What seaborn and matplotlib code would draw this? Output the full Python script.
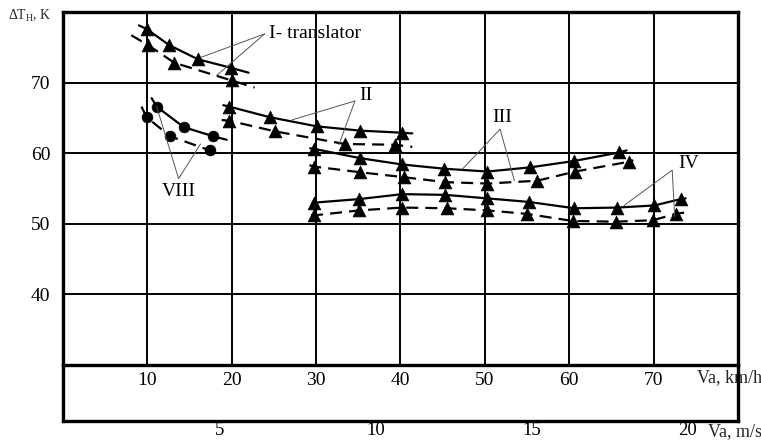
import matplotlib
matplotlib.use("Agg")
import matplotlib.pyplot as plt
import pandas as pd
import seaborn as sns

# ---------------- data ----------------
kmh_ticks = [10, 20, 30, 40, 50, 60, 70]
ms_ticks = [5, 10, 15, 20]
dT_ticks = [40, 50, 60, 70]

# Curve I (translator)
I_solid_v = [9.9, 12.6, 16.0, 19.9]
I_solid_T = [77.6, 75.3, 73.3, 72.1]
I_solid_ends = [(9.0, 78.1), (22.0, 71.4)]
I_dash_v = [10.1, 13.2, 20.0]
I_dash_T = [75.3, 72.8, 70.3]
I_dash_ends = [(8.1, 76.7), (22.7, 69.3)]

# Curve VIII (circles)
VIII_solid_v = [11.1, 14.3, 17.8]
VIII_solid_T = [66.6, 63.7, 62.4]
VIII_solid_ends = [(10.5, 67.8), (19.4, 61.9)]
VIII_dash_v = [9.9, 12.7, 17.4]
VIII_dash_T = [65.1, 62.4, 60.4]
VIII_dash_ends = [(9.3, 66.6), (18.0, 60.1)]

# Curve II
II_solid_v = [19.7, 24.5, 30.1, 35.2, 40.2]
II_solid_T = [66.6, 65.1, 63.8, 63.2, 62.9]
II_solid_ends = [(19.0, 66.8), (41.4, 62.8)]
II_dash_v = [19.7, 25.1, 33.4, 39.3]
II_dash_T = [64.6, 63.1, 61.3, 61.2]
II_dash_ends = [(18.8, 64.7), (41.4, 60.9)]

# Curve III
III_solid_v = [29.8, 35.2, 40.2, 45.2, 50.3, 55.4, 60.6, 65.9]
III_solid_T = [60.6, 59.3, 58.4, 57.8, 57.4, 58.0, 58.9, 60.1]
III_solid_ends = [(29.3, 60.7), (66.8, 60.4)]
III_dash_v = [29.8, 35.2, 40.4, 45.3, 50.3, 56.2, 60.7, 67.1]
III_dash_T = [58.1, 57.3, 56.6, 55.9, 55.7, 56.1, 57.4, 58.8]
III_dash_ends = [(29.2, 58.3), (67.6, 59.0)]

# Curve IV
IV_solid_v = [29.8, 35.1, 40.2, 45.3, 50.3, 55.2, 60.6, 65.7, 70.1, 73.2]
IV_solid_T = [53.0, 53.5, 54.2, 54.1, 53.6, 53.1, 52.2, 52.3, 52.6, 53.5]
IV_solid_ends = [(29.6, 53.0), (73.8, 53.6)]
IV_dash_v = [29.8, 35.1, 40.2, 45.5, 50.3, 55.0, 60.4, 65.5, 69.9, 72.6]
IV_dash_T = [51.2, 51.9, 52.3, 52.2, 51.9, 51.4, 50.4, 50.3, 50.5, 51.4]
IV_dash_ends = [(29.4, 51.2), (73.7, 51.6)]

# annotation labels: text, text position, apex, targets
ann_labels = ["I- translator", "II", "III", "IV", "VIII"]
ann_text_pos = [(24.4, 76.9), (35.9, 68.2), (52.0, 65.1), (74.1, 58.6), (13.7, 54.6)]
ann_ha = ["left", "center", "center", "center", "center"]
ann_apex = [(23.9, 76.9), (34.6, 67.4), (51.8, 63.4), (72.2, 57.6), (13.7, 56.4)]
ann_targets = [[(16.4, 73.6), (18.2, 71.0)],
               [(27.1, 64.7), (32.7, 61.2)],
               [(47.3, 57.7), (53.5, 56.1)],
               [(66.5, 52.6), (72.5, 51.0)],
               [(11.1, 66.6), (16.3, 61.3)]]

# ---------------- assemble tables ----------------
series = [
    ("I-s", "solid", "tri", I_solid_v, I_solid_T, I_solid_ends),
    ("I-d", "dashed", "tri", I_dash_v, I_dash_T, I_dash_ends),
    ("VIII-s", "solid", "circ", VIII_solid_v, VIII_solid_T, VIII_solid_ends),
    ("VIII-d", "dashed", "circ", VIII_dash_v, VIII_dash_T, VIII_dash_ends),
    ("II-s", "solid", "tri", II_solid_v, II_solid_T, II_solid_ends),
    ("II-d", "dashed", "tri", II_dash_v, II_dash_T, II_dash_ends),
    ("III-s", "solid", "tri", III_solid_v, III_solid_T, III_solid_ends),
    ("III-d", "dashed", "tri", III_dash_v, III_dash_T, III_dash_ends),
    ("IV-s", "solid", "tri", IV_solid_v, IV_solid_T, IV_solid_ends),
    ("IV-d", "dashed", "tri", IV_dash_v, IV_dash_T, IV_dash_ends),
]
line_rows, pt_rows = [], []
for name, kind, mk, v, T, ends in series:
    vv = [ends[0][0]] + list(v) + [ends[1][0]]
    TT = [ends[0][1]] + list(T) + [ends[1][1]]
    for i, (a, b) in enumerate(zip(vv, TT)):
        line_rows.append(dict(v=a, T=b, curve=name, kind=kind, order=i))
    for a, b in zip(v, T):
        pt_rows.append(dict(v=a, T=b, curve=name, kind=kind, marker=mk))
lines = pd.DataFrame(line_rows)
pts = pd.DataFrame(pt_rows)

# ---------------- figure ----------------
sns.set_style("white")
plt.rcParams["font.family"] = ["Liberation Serif", "DejaVu Serif"]
plt.rcParams["mathtext.fontset"] = "custom"
plt.rcParams["mathtext.rm"] = "Liberation Serif"

W, H = 761, 442
fig = plt.figure(figsize=(W / 100, H / 100), dpi=100)
L, R, T0, B0, B1 = 63, 738, 12, 365, 421
ax = fig.add_axes([L / W, 1 - B0 / H, (R - L) / W, (B0 - T0) / H])
ax2 = fig.add_axes([L / W, 1 - B1 / H, (R - L) / W, (B1 - B0) / H])

SP = 2.4
ax.set_xlim(0, 80)
ax.set_ylim(30, 80)
ax.set_xticks(kmh_ticks)
ax.set_yticks(dT_ticks)
ax.grid(True, color="black", lw=1.4)
ax.set_axisbelow(True)
for s in ax.spines.values():
    s.set_color("black")
    s.set_linewidth(SP)
ax.tick_params(axis="both", length=0, labelsize=14, colors="black")
ax.tick_params(axis="x", pad=5)
ax.tick_params(axis="y", pad=9)

sns.lineplot(data=lines, x="v", y="T", units="curve", estimator=None, sort=False,
             style="kind", dashes={"solid": "", "dashed": (5.4, 3.2)},
             color="black", lw=1.6, legend=False, ax=ax, zorder=3)
sns.scatterplot(data=pts[pts.marker == "tri"], x="v", y="T", marker="^", s=85,
                color="black", edgecolor="black", linewidth=0.5, legend=False, ax=ax, zorder=4)
sns.scatterplot(data=pts[pts.marker == "circ"], x="v", y="T", marker="o", s=60,
                color="black", edgecolor="black", linewidth=0.5, legend=False, ax=ax, zorder=4)
ax.set_xlabel("")
ax.set_ylabel("")

for lab, tp, ha, apex, tg in zip(ann_labels, ann_text_pos, ann_ha, ann_apex, ann_targets):
    for t in tg:
        ax.plot([apex[0], t[0]], [apex[1], t[1]], color="#555555", lw=0.7, zorder=5)
    ax.text(tp[0], tp[1], lab, ha=ha, va="center", fontsize=14, color="black", zorder=6)

# lower band with m/s scale
ax2.set_xlim(0, 21.6)
ax2.set_ylim(0, 1)
ax2.set_yticks([])
ax2.set_xticks(ms_ticks)
ax2.set_facecolor("none")
ax2.spines["top"].set_visible(False)
for k in ["left", "right", "bottom"]:
    ax2.spines[k].set_color("black")
    ax2.spines[k].set_linewidth(SP)
ax2.tick_params(axis="x", direction="in", length=4, width=2.2, labelsize=13.5, pad=1, colors="black")
ax2.set_xlabel("")

fig.text(697 / W, 1 - 378 / H, "Va, km/h", ha="left", va="center", fontsize=13)
fig.text(708 / W, 1 - 432 / H, "Va, m/s", ha="left", va="center", fontsize=13)
fig.text(8 / W, 1 - 16 / H, r"ΔT$_{\mathrm{H}}$, K", ha="left", va="center", fontsize=10)

fig.savefig("out.png", dpi=100)
